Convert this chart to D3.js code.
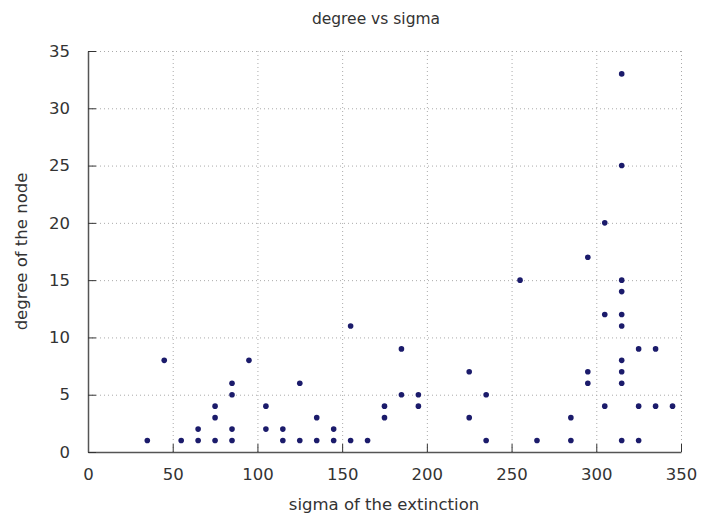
<!DOCTYPE html>
<html>
<head>
<meta charset="utf-8">
<script src="https://cdn.jsdelivr.net/npm/d3@7"></script>
<style>
  body { margin: 0; background: #fff; }
  text { font-family: "DejaVu Sans", sans-serif; fill: #333; }
</style>
</head>
<body>
<div id="chart"></div>
<script>
// sigma of the extinction (x) and degree of the node (y), one entry per point
const sigma = [35, 45, 55, 65, 65, 75, 75, 75, 85, 85, 85, 85, 95, 105, 105,
  115, 115, 125, 125, 135, 135, 145, 145, 155, 155, 165, 175, 175, 185, 185,
  195, 195, 225, 225, 235, 235, 255, 265, 285, 285, 295, 295, 295, 305, 305,
  305, 315, 315, 315, 315, 315, 315, 315, 315, 315, 315, 325, 325, 325, 335,
  335, 345];
const degree = [1, 8, 1, 1, 2, 1, 3, 4, 1, 2, 5, 6, 8, 2, 4,
  1, 2, 1, 6, 1, 3, 1, 2, 1, 11, 1, 3, 4, 5, 9,
  4, 5, 3, 7, 1, 5, 15, 1, 1, 3, 6, 7, 17, 4, 12,
  20, 1, 6, 7, 8, 11, 12, 14, 15, 25, 33, 1, 4, 9, 4,
  9, 4];
const xTicks = [0, 50, 100, 150, 200, 250, 300, 350];
const yTicks = [0, 5, 10, 15, 20, 25, 30, 35];

const width = 701, height = 517;
const margin = { top: 51, right: 20, bottom: 65, left: 88 };

const svg = d3.select('#chart')
  .append('svg')
  .attr('width', width)
  .attr('height', height);

const x = d3.scaleLinear().domain([0, 350]).range([margin.left, width - margin.right]);
const y = d3.scaleLinear().domain([0, 35]).range([height - margin.bottom, margin.top]);

// dotted grid
const grid = svg.append('g')
  .attr('stroke', '#aaa')
  .attr('stroke-width', 1)
  .attr('stroke-dasharray', '1,3');
grid.selectAll('.gx')
  .data(xTicks.slice(1))
  .enter().append('line')
  .attr('x1', d => x(d) + 0.5).attr('x2', d => x(d) + 0.5)
  .attr('y1', y(0)).attr('y2', y(35));
grid.selectAll('.gy')
  .data(yTicks.slice(1))
  .enter().append('line')
  .attr('x1', x(0)).attr('x2', x(350))
  .attr('y1', d => y(d) + 0.5).attr('y2', d => y(d) + 0.5);

// axes, ticks pointing inward
const xAxis = svg.append('g')
  .attr('transform', `translate(0,${y(0)})`)
  .call(d3.axisBottom(x).tickValues(xTicks).tickSizeInner(-8).tickSizeOuter(0).tickPadding(16));
const yAxis = svg.append('g')
  .attr('transform', `translate(${x(0)},0)`)
  .call(d3.axisLeft(y).tickValues(yTicks).tickSizeInner(-8).tickSizeOuter(0).tickPadding(18));

[xAxis, yAxis].forEach(a => {
  a.select('.domain').attr('stroke', '#555').attr('stroke-width', 1.5);
  a.selectAll('.tick line').attr('stroke', '#333');
  a.selectAll('.tick text').style('font-size', '16.5px').attr('fill', '#333');
});

// points
svg.append('g')
  .selectAll('circle')
  .data(sigma.map((s, i) => ({ s: s, d: degree[i] })))
  .enter()
  .append('circle')
  .attr('cx', d => x(d.s))
  .attr('cy', d => y(d.d))
  .attr('r', 2.8)
  .attr('fill', '#1b1b6b');

// titles
svg.append('text')
  .attr('x', 376).attr('y', 24)
  .attr('text-anchor', 'middle')
  .style('font-size', '15.5px')
  .text('degree vs sigma');

svg.append('text')
  .attr('x', 384).attr('y', 510)
  .attr('text-anchor', 'middle')
  .style('font-size', '16.5px')
  .text('sigma of the extinction');

svg.append('text')
  .attr('transform', `translate(27,${(y(0) + y(35)) / 2}) rotate(-90)`)
  .attr('text-anchor', 'middle')
  .style('font-size', '16.5px')
  .text('degree of the node');
</script>
</body>
</html>
